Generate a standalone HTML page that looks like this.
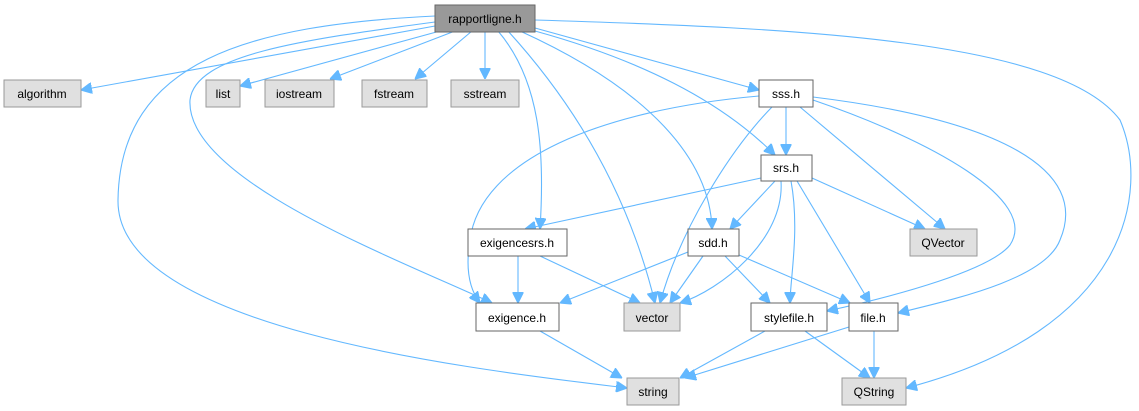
<!DOCTYPE html>
<html><head><meta charset="utf-8"><style>
body{margin:0;background:#fff;width:1139px;height:411px;overflow:hidden}
svg{display:block}
text{font-family:"Liberation Sans",sans-serif;font-size:12px;fill:#000;text-anchor:middle}
path{fill:none;stroke:#63b8ff;stroke-width:1.1}
</style></head><body>
<svg width="1139" height="411" viewBox="0 0 1139 411">
<defs><marker id="a" viewBox="0 0 10 10" refX="10" refY="5" markerWidth="11" markerHeight="11" markerUnits="userSpaceOnUse" orient="auto"><path d="M0,0L10,5L0,10z" style="fill:#63b8ff;stroke:#63b8ff"/></marker></defs>
<g marker-end="url(#a)">
<path d="M435,26 L81,90"/>
<path d="M440,31 L240,86"/>
<path d="M455,31 L330,79"/>
<path d="M472,31 L415,79"/>
<path d="M485,31 L485,79"/>
<path d="M435,22 C300,40 195,55 190,100 C185,180 400,260 492,303"/>
<path d="M435,16 C250,25 120,60 118,200 C116,330 480,370 627,388"/>
<path d="M498,31 C540,80 545,150 540,229"/>
<path d="M508,31 C580,110 630,200 655,303"/>
<path d="M520,31 C650,90 710,160 712,229"/>
<path d="M535,31 C640,60 720,100 775,155"/>
<path d="M535,28 L759,90"/>
<path d="M535,20 C800,28 1060,40 1120,120 C1150,190 1130,330 906,388"/>
<path d="M786,107 L786,155"/>
<path d="M759,96 C600,110 480,160 470,240 C465,270 470,290 480,303"/>
<path d="M772,107 C730,150 680,230 660,303"/>
<path d="M800,107 L945,229"/>
<path d="M813,100 C930,140 1040,200 1010,245 C990,270 900,295 827,311"/>
<path d="M813,97 C1000,120 1090,170 1060,240 C1045,280 950,300 898,313"/>
<path d="M761,178 L525,229"/>
<path d="M775,181 L730,229"/>
<path d="M781,181 C785,240 720,290 680,303"/>
<path d="M791,181 C800,230 790,280 790,303"/>
<path d="M797,181 L870,303"/>
<path d="M812,178 L925,229"/>
<path d="M518,256 L518,303"/>
<path d="M540,256 L640,303"/>
<path d="M688,252 L560,303"/>
<path d="M703,256 L670,303"/>
<path d="M725,256 L770,303"/>
<path d="M739,255 L850,303"/>
<path d="M540,331 L622,378"/>
<path d="M765,331 L680,378"/>
<path d="M805,331 L870,378"/>
<path d="M849,327 L685,378"/>
<path d="M874,331 L874,378"/>
</g>
<g stroke-width="1">
<rect x="435" y="5" width="100" height="27" fill="#999" stroke="#666"/>
<rect x="4" y="80" width="77" height="27" fill="#e0e0e0" stroke="#999"/>
<rect x="206" y="80" width="34" height="27" fill="#e0e0e0" stroke="#999"/>
<rect x="265" y="80" width="69" height="27" fill="#e0e0e0" stroke="#999"/>
<rect x="362" y="80" width="65" height="27" fill="#e0e0e0" stroke="#999"/>
<rect x="451" y="80" width="68" height="27" fill="#e0e0e0" stroke="#999"/>
<rect x="759" y="80" width="54" height="27" fill="#fff" stroke="#666"/>
<rect x="761" y="155" width="51" height="26" fill="#fff" stroke="#666"/>
<rect x="468" y="229" width="99" height="27" fill="#fff" stroke="#666"/>
<rect x="688" y="229" width="51" height="27" fill="#fff" stroke="#666"/>
<rect x="910" y="229" width="67" height="27" fill="#e0e0e0" stroke="#999"/>
<rect x="476" y="303" width="83" height="28" fill="#fff" stroke="#666"/>
<rect x="624" y="303" width="56" height="28" fill="#e0e0e0" stroke="#999"/>
<rect x="751" y="303" width="76" height="28" fill="#fff" stroke="#666"/>
<rect x="849" y="303" width="49" height="28" fill="#fff" stroke="#666"/>
<rect x="627" y="378" width="52" height="27" fill="#e0e0e0" stroke="#999"/>
<rect x="842" y="378" width="64" height="27" fill="#e0e0e0" stroke="#999"/>
</g>
<text x="485" y="23">rapportligne.h</text>
<text x="42" y="98">algorithm</text>
<text x="223" y="98">list</text>
<text x="299" y="98">iostream</text>
<text x="394" y="98">fstream</text>
<text x="485" y="98">sstream</text>
<text x="786" y="98">sss.h</text>
<text x="786" y="172">srs.h</text>
<text x="517" y="247">exigencesrs.h</text>
<text x="713" y="247">sdd.h</text>
<text x="943" y="247">QVector</text>
<text x="517" y="322">exigence.h</text>
<text x="652" y="322">vector</text>
<text x="789" y="322">stylefile.h</text>
<text x="873" y="322">file.h</text>
<text x="653" y="396">string</text>
<text x="874" y="396">QString</text>
</svg>
</body></html>
